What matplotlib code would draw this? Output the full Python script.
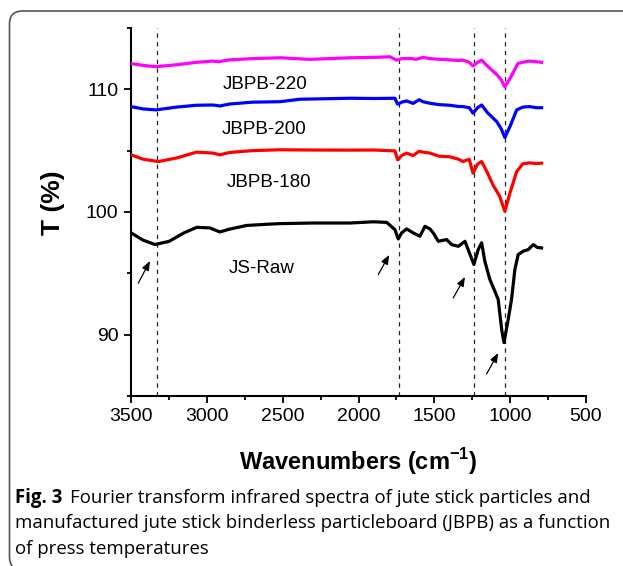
import matplotlib.pyplot as plt
from matplotlib.patches import FancyBboxPatch
from matplotlib.transforms import IdentityTransform
from matplotlib.ticker import MultipleLocator

plt.rcParams['font.family'] = ['Liberation Sans', 'DejaVu Sans']

# FTIR spectra: wavenumber (cm-1) and transmittance (%)
raw_wn = [3500, 3420, 3342, 3250, 3150, 3067, 2980, 2914, 2850, 2738, 2600, 2518,
          2300, 2056, 1900, 1814, 1760, 1738, 1716, 1683, 1639, 1595, 1562, 1529,
          1507, 1474, 1419, 1386, 1342, 1298, 1277, 1239, 1211, 1188, 1167, 1134,
          1101, 1079, 1056, 1041, 1013, 991, 969, 947, 914, 881, 848, 820, 793]
raw_t = [98.3, 97.7, 97.35, 97.6, 98.3, 98.75, 98.7, 98.37, 98.6, 98.9, 99.0, 99.05,
         99.1, 99.1, 99.2, 99.15, 98.56, 97.8, 98.29, 98.62, 98.29, 98.02, 98.83, 98.62,
         98.29, 97.61, 97.75, 97.34, 97.2, 97.61, 96.93, 95.72, 96.93, 97.48, 95.98, 94.5,
         93.54, 92.87, 90.43, 89.35, 91.24, 92.87, 95.31, 96.53, 96.8, 96.93, 97.34, 97.1, 97.07]

t180_wn = [3500, 3420, 3320, 3200, 3067, 2960, 2914, 2850, 2700, 2518, 2300, 2056,
           1900, 1760, 1742, 1715, 1683, 1640, 1600, 1575, 1529, 1470, 1400, 1340,
           1311, 1270, 1245, 1215, 1188, 1150, 1114, 1070, 1035, 1000, 957, 916, 870, 830, 793]
t180_t = [104.66, 104.3, 104.11, 104.4, 104.88, 104.8, 104.66, 104.85, 105.0, 105.07, 105.05, 105.04,
          105.05, 104.98, 104.25, 104.6, 104.8, 104.6, 104.95, 104.88, 104.8, 104.55, 104.5, 104.3,
          104.11, 104.3, 103.17, 103.9, 104.11, 103.2, 102.22, 101.3, 100.05, 101.6, 103.3, 103.93, 104.0, 103.95, 103.98]

t200_wn = [3500, 3420, 3335, 3200, 3067, 2960, 2914, 2850, 2700, 2518, 2386, 2056,
           1900, 1760, 1742, 1715, 1683, 1640, 1600, 1575, 1529, 1470, 1400, 1340,
           1311, 1270, 1245, 1215, 1188, 1150, 1089, 1060, 1035, 1000, 957, 916, 870, 830, 793]
t200_t = [108.59, 108.4, 108.32, 108.55, 108.7, 108.72, 108.64, 108.8, 108.95, 108.99, 109.19, 109.27,
          109.25, 109.27, 108.78, 108.95, 109.05, 108.85, 109.15, 108.99, 108.86, 108.75, 108.7, 108.6,
          108.59, 108.5, 108.05, 108.5, 108.72, 108.1, 107.37, 106.8, 106.07, 107.0, 108.32, 108.55, 108.59, 108.5, 108.5]

t220_wn = [3500, 3420, 3335, 3200, 3067, 2960, 2926, 2850, 2700, 2518, 2320, 2056,
           1900, 1793, 1749, 1715, 1661, 1620, 1575, 1529, 1470, 1400, 1340,
           1311, 1270, 1245, 1215, 1188, 1150, 1089, 1060, 1035, 1000, 949, 900, 870, 830, 793]
t220_t = [112.1, 111.95, 111.84, 112.0, 112.2, 112.3, 112.24, 112.4, 112.5, 112.57, 112.44, 112.57,
          112.6, 112.65, 112.38, 112.5, 112.52, 112.45, 112.6, 112.5, 112.45, 112.4, 112.35,
          112.38, 112.2, 111.9, 112.2, 112.38, 111.9, 111.2, 110.8, 110.2, 110.9, 112.1, 112.25, 112.3, 112.25, 112.2]

series = [(raw_wn, raw_t, 'black'), (t180_wn, t180_t, '#ff0000'),
          (t200_wn, t200_t, '#0000ff'), (t220_wn, t220_t, '#ff00ff')]

peak_lines = [3330, 1735, 1240, 1035]
arrow_tails = [(3452, 94.2), (1870, 94.9), (1375, 93.0), (1155, 86.8)]
arrow_tips = [(3375, 96.0), (1797, 96.5), (1298, 94.7), (1079, 88.5)]

labels = ["JBPB-220", "JBPB-200", "JBPB-180", "JS-Raw"]
label_x = [2894, 2902, 2869, 2859]
label_y = [110.0, 106.39, 102.06, 95.01]

fig = plt.figure(figsize=(6.23, 5.66), dpi=100)
ax = fig.add_axes([0.2103, 0.3004, 0.7303, 0.6502])

for wn in peak_lines:
    ax.axvline(wn, color='#222222', lw=0.9, ls=(0, (3.5, 3.5)), zorder=1)

for wn, t, c in series:
    ax.plot(wn, t, color=c, lw=2.3, zorder=3)

for (x0, y0), (x1, y1) in zip(arrow_tails, arrow_tips):
    ax.annotate('', xy=(x1, y1), xytext=(x0, y0),
                arrowprops=dict(arrowstyle='-|>,head_length=0.55,head_width=0.22',
                                color='black', lw=0.9, shrinkA=0, shrinkB=0))

for s, x, y in zip(labels, label_x, label_y):
    ax.text(x, y, s, fontsize=13.5, ha='left', va='baseline')

ax.set_xlim(3500, 500)
ax.set_ylim(85, 115)
ax.xaxis.set_major_locator(MultipleLocator(500))
ax.xaxis.set_minor_locator(MultipleLocator(250))
ax.yaxis.set_major_locator(MultipleLocator(10))
ax.yaxis.set_minor_locator(MultipleLocator(5))
ax.spines['top'].set_visible(False)
ax.spines['right'].set_visible(False)
for sp in ['left', 'bottom']:
    ax.spines[sp].set_linewidth(1.5)
ax.tick_params(which='major', direction='out', length=5, width=1.3, labelsize=14, pad=4)
ax.tick_params(which='minor', direction='out', length=3, width=1.3)

fig.text(358.5 / 623, 1 - 470 / 566, 'Wavenumbers (cm$^{\\mathregular{-1}}$)',
         fontsize=17, fontweight='bold', ha='center', va='baseline')
fig.text(53 / 623, 1 - 203 / 566, 'T (%)', fontsize=19, fontweight='bold',
         rotation=90, ha='center', va='center')

# caption
cap_font = ['Open Sans', 'DejaVu Sans']
cap_size = 13.4
fig_lbl = fig.text(15 / 623, 1 - 503 / 566, 'Fig. 3', fontsize=cap_size, fontweight='bold',
                   family=cap_font, va='baseline')
r = fig.canvas.get_renderer()
bb = fig_lbl.get_window_extent(r)
fig.text((bb.x1 + 8) / 623, 1 - 503 / 566,
         'Fourier transform infrared spectra of jute stick particles and',
         fontsize=cap_size, family=cap_font, va='baseline')
fig.text(15 / 623, 1 - 528.5 / 566,
         'manufactured jute stick binderless particleboard (JBPB) as a function',
         fontsize=cap_size, family=cap_font, va='baseline')
fig.text(15 / 623, 1 - 554 / 566, 'of press temperatures',
         fontsize=cap_size, family=cap_font, va='baseline')

frame = FancyBboxPatch((9.5, -4), 700, 555 + 4, boxstyle='round,pad=0,rounding_size=13',
                       transform=IdentityTransform(), fill=False, edgecolor='#555555',
                       lw=1.2, clip_on=False)
fig.patches.append(frame)

fig.savefig('out.png', dpi=100)
